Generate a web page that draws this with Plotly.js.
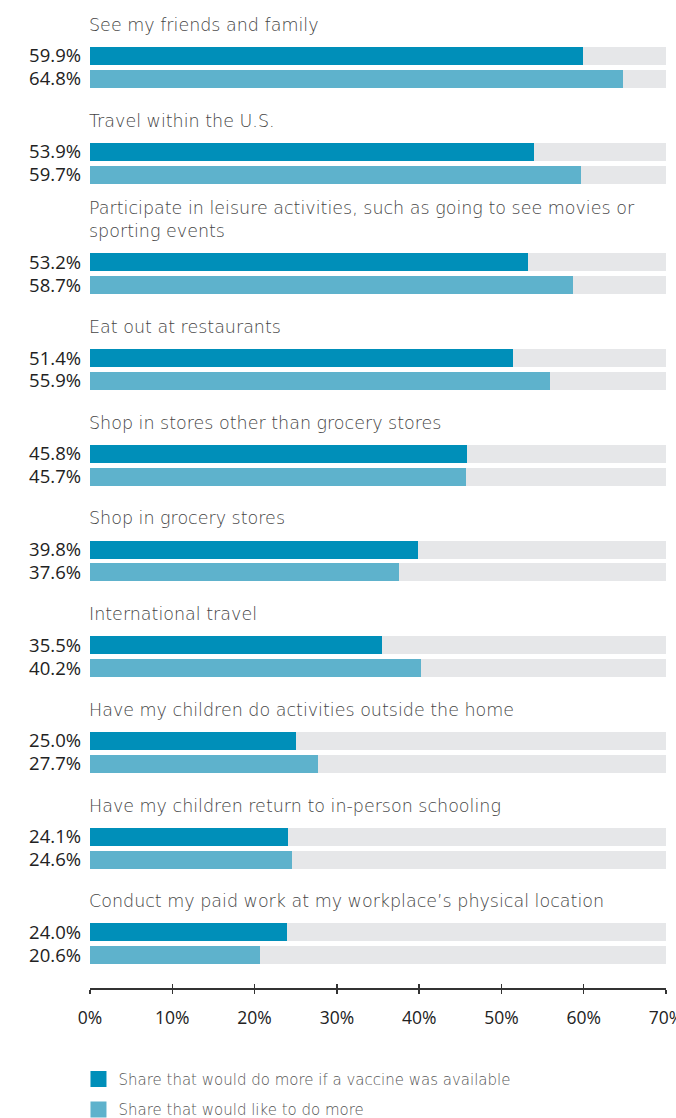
<!DOCTYPE html>
<html><head><meta charset="utf-8">
<script src="https://cdn.plot.ly/plotly-3.0.1.min.js"></script>
<style>html,body{margin:0;padding:0;background:#fff}#chart{width:676px;height:1118px}</style>
</head><body><div id="chart"></div>
<script>
const categories = [
  "See my friends and family",
  "Travel within the U.S.",
  "Participate in leisure activities, such as going to see movies or sporting events",
  "Eat out at restaurants",
  "Shop in stores other than grocery stores",
  "Shop in grocery stores",
  "International travel",
  "Have my children do activities outside the home",
  "Have my children return to in-person schooling",
  "Conduct my paid work at my workplace\u2019s physical location"
];
const vaccineShare = [59.9, 53.9, 53.2, 51.4, 45.8, 39.8, 35.5, 25.0, 24.1, 24.0];
const likeShare    = [64.8, 59.7, 58.7, 55.9, 45.7, 37.6, 40.2, 27.7, 24.6, 20.6];
const seriesNames = [
  "Share that would do more if a vaccine was available",
  "Share that would like to do more"
];
const xTickVals = [0, 10, 20, 30, 40, 50, 60, 70];
const xTickText = xTickVals.map(v => v + "%");
const axisMax = 70;

const COLORS = {dark: "#008fb9", light: "#5eb2cc", track: "#e6e7e9"};
const FONT = "'Open Sans', 'DejaVu Sans', sans-serif";
const TFONT = "'DejaVu Sans', 'Open Sans', sans-serif";

function wrap(s, n) {
  const words = s.split(" "); const lines = []; let cur = "";
  words.forEach(w => {
    if ((cur + " " + w).trim().length > n) { lines.push(cur); cur = w; }
    else cur = (cur + " " + w).trim();
  });
  if (cur) lines.push(cur);
  return lines.join("<br>");
}
const wrapped = categories.map(c => wrap(c, 66));
const pos = []; let p = 0;
wrapped.forEach((t, i) => {
  if (i > 0) p += 1 + (t.includes("<br>") ? 0.155 : 0);
  pos.push(p);
});
const OFF = 0.12, BW = 0.188;
const y1 = pos.map(v => v - OFF);
const y2 = pos.map(v => v + OFF);
const fmt = v => v.toFixed(1) + "%";

const traces = [
  {type: "bar", orientation: "h", x: y1.concat(y2).map(() => axisMax), y: y1.concat(y2),
   width: BW, marker: {color: COLORS.track}, hoverinfo: "skip", showlegend: false,
   xaxis: "x", yaxis: "y"},
  {type: "bar", orientation: "h", x: vaccineShare, y: y1, width: BW, name: seriesNames[0],
   marker: {color: COLORS.dark}, showlegend: false, xaxis: "x2", yaxis: "y"},
  {type: "bar", orientation: "h", x: likeShare, y: y2, width: BW, name: seriesNames[1],
   marker: {color: COLORS.light}, showlegend: false, xaxis: "x2", yaxis: "y"},
  {type: "scatter", mode: "markers", x: [null], y: [null], name: seriesNames[0], legendgroup: "a",
   marker: {symbol: "square", size: 16, color: COLORS.dark}, xaxis: "x2", yaxis: "y"},
  {type: "scatter", mode: "markers", x: [null], y: [null], name: seriesNames[1], legendgroup: "b",
   marker: {symbol: "square", size: 16, color: COLORS.light}, xaxis: "x2", yaxis: "y"}
];

const annotations = wrapped.map((t, i) => ({
  text: t, x: 0, xref: "x", xshift: -3, y: pos[i] - 0.32, yref: "y", xanchor: "left", yanchor: "bottom",
  align: "left", showarrow: false, font: {family: TFONT, size: 17.5, weight: 200, color: "#454545"}
}));

const last = pos[pos.length - 1];
const layout = {
  width: 676, height: 1118,
  margin: {l: 90, r: 10, t: 10, b: 130, autoexpand: false},
  paper_bgcolor: "#fff", plot_bgcolor: "#fff",
  barmode: "overlay", bargap: 0,
  font: {family: FONT, color: "#222"},
  showlegend: true,
  legend: {x: -0.02, xanchor: "left", y: 0.0495, yref: "container", yanchor: "top", orientation: "v",
           itemsizing: "trace", tracegroupgap: 8, font: {family: TFONT, size: 15, weight: 200, color: "#555"},
           bgcolor: "rgba(0,0,0,0)"},
  xaxis: {range: [0, axisMax], tickvals: xTickVals, ticktext: xTickText, ticks: "outside",
          ticklen: 4, tickwidth: 1.3, tickcolor: "#333", showline: true, linecolor: "#333",
          linewidth: 1.5, showgrid: false, zeroline: false, fixedrange: true, automargin: false,
          ticklabeloverflow: "allow",
          tickfont: {family: FONT, size: 17.5, color: "#222"}, ticklabelstandoff: 9},
  xaxis2: {range: [0, axisMax], overlaying: "x", anchor: "y", side: "bottom", ticks: "inside",
           ticklen: 4, tickwidth: 1.3, tickcolor: "#333", tickvals: xTickVals,
           showticklabels: false, showline: false, showgrid: false, zeroline: false},
  yaxis: {range: [last + 0.46, pos[0] - 0.6], tickvals: y1.concat(y2), automargin: false,
          ticktext: vaccineShare.map(fmt).concat(likeShare.map(fmt)),
          showgrid: false, zeroline: false, showline: false, ticks: "",
          ticklabelstandoff: 8, tickfont: {family: FONT, size: 18.5, color: "#222"}},
  annotations: annotations
};
Plotly.newPlot("chart", traces, layout, {staticPlot: true, displayModeBar: false});
</script></body></html>
